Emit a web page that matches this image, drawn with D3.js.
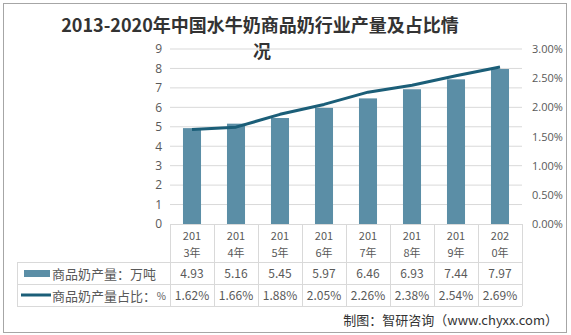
<!DOCTYPE html>
<html><head><meta charset="utf-8">
<script src="https://cdn.jsdelivr.net/npm/d3@7"></script>
<style>body{margin:0;background:#fff}svg{display:block;font-family:"Noto Sans CJK SC","Noto Sans",sans-serif}</style>
</head><body><svg id="c" width="571" height="335"></svg>
<script>
const years = ["2013年","2014年","2015年","2016年","2017年","2018年","2019年","2020年"];
const output = [4.93,5.16,5.45,5.97,6.46,6.93,7.44,7.97];
const share = [1.62,1.66,1.88,2.05,2.26,2.38,2.54,2.69];
const leftTicks = [0,1,2,3,4,5,6,7,8,9];
const rightTicks = [0,0.5,1,1.5,2,2.5,3];
const seriesNames = ["商品奶产量：万吨","商品奶产量占比：%"];

const svg = d3.select("#c");
const L=170,R=522,T=49,B=224;
const barColor="#5b8ea6", lineColor="#1b5e78", txt="#595959", grid="#d9d9d9";
svg.append("rect").attr("x",3.5).attr("y",3.5).attr("width",563).attr("height",329).attr("fill","#fff").attr("stroke","#a6a6a6");

svg.append("text").attr("x",260).attr("y",32).attr("text-anchor","middle").attr("font-size",18).attr("font-weight","bold").attr("fill","#333")
  .text("2013-2020年中国水牛奶商品奶行业产量及占比情");
svg.append("text").attr("x",262).attr("y",58).attr("text-anchor","middle").attr("font-size",18).attr("font-weight","bold").attr("fill","#333").text("况");

const x = d3.scaleBand().domain(years).range([L,R]).paddingInner(0.59).paddingOuter(0.295);
const xc = d3.scaleBand().domain(years).range([L,R]);
const y = d3.scaleLinear().domain([0,9]).range([B,T]);
const y2 = d3.scaleLinear().domain([0,3]).range([B,T]);

svg.append("g").selectAll("line").data(leftTicks.slice(1)).join("line")
  .attr("x1",L).attr("x2",R).attr("y1",d=>y(d)).attr("y2",d=>y(d)).attr("stroke",grid);

const la = svg.append("g").attr("transform",`translate(${L},0)`).call(d3.axisLeft(y).tickValues(leftTicks).tickSize(0).tickPadding(8));
la.select(".domain").remove();
la.selectAll("text").attr("font-size",12).attr("fill",txt).attr("font-family","'Open Sans',sans-serif");
const ra = svg.append("g").attr("transform",`translate(${R},0)`).call(d3.axisRight(y2).tickValues(rightTicks).tickSize(0).tickPadding(10).tickFormat(d=>d.toFixed(2)+"%"));
ra.select(".domain").remove();
ra.selectAll("text").attr("font-size",11).attr("fill",txt).attr("font-family","'Open Sans',sans-serif");

svg.append("g").selectAll("rect").data(output).join("rect")
  .attr("x",(d,i)=>x(years[i])).attr("width",x.bandwidth()).attr("y",d=>y(d)).attr("height",d=>B-y(d)).attr("fill",barColor);

svg.append("path").datum(share).attr("fill","none").attr("stroke",lineColor).attr("stroke-width",3).attr("stroke-linejoin","round")
  .attr("d",d3.line().x((d,i)=>xc(years[i])+xc.bandwidth()/2).y(d=>y2(d)));

// table
const tg = svg.append("g");
tg.append("line").attr("x1",L).attr("x2",R).attr("y1",B+0.5).attr("y2",B+0.5).attr("stroke",grid);
[262,284,306].forEach(yy=>tg.append("line").attr("x1",17).attr("x2",R).attr("y1",yy+0.5).attr("y2",yy+0.5).attr("stroke",grid));
tg.append("line").attr("x1",17.5).attr("x2",17.5).attr("y1",262).attr("y2",306).attr("stroke",grid);
d3.range(years.length+1).forEach(i=>{const xx=Math.round(L+i*xc.step())+0.5;
  tg.append("line").attr("x1",xx).attr("x2",xx).attr("y1",B).attr("y2",306).attr("stroke",grid);});
const cx=(i)=>xc(years[i])+xc.bandwidth()/2;
years.forEach((yr,i)=>{
  tg.append("text").attr("x",cx(i)).attr("y",240).attr("text-anchor","middle").attr("font-size",11).attr("fill",txt).text(yr.slice(0,3));
  tg.append("text").attr("x",cx(i)).attr("y",257).attr("text-anchor","middle").attr("font-size",11).attr("fill",txt).text(yr.slice(3));
  tg.append("text").attr("x",cx(i)).attr("y",278).attr("text-anchor","middle").attr("font-size",12).attr("fill",txt).text(output[i].toFixed(2));
  tg.append("text").attr("x",cx(i)).attr("y",300).attr("text-anchor","middle").attr("font-size",12).attr("fill",txt).text(share[i].toFixed(2)+"%");
});
tg.append("rect").attr("x",24).attr("y",270).attr("width",26).attr("height",7).attr("fill",barColor);
tg.append("line").attr("x1",21).attr("x2",51).attr("y1",295).attr("y2",295).attr("stroke",lineColor).attr("stroke-width",3);
tg.append("text").attr("x",52).attr("y",279).attr("font-size",13).attr("fill",txt).text(seriesNames[0]);
tg.append("text").attr("x",52).attr("y",301).attr("font-size",13).attr("fill",txt).text(seriesNames[1].slice(0,-1));
tg.append("text").attr("x",166).attr("y",300).attr("text-anchor","end").attr("font-size",10).attr("fill",txt).text("%");

svg.append("text").attr("x",558).attr("y",325).attr("text-anchor","end").attr("font-size",13).attr("fill","#333").text("制图：智研咨询（www.chyxx.com）");
</script></body></html>
